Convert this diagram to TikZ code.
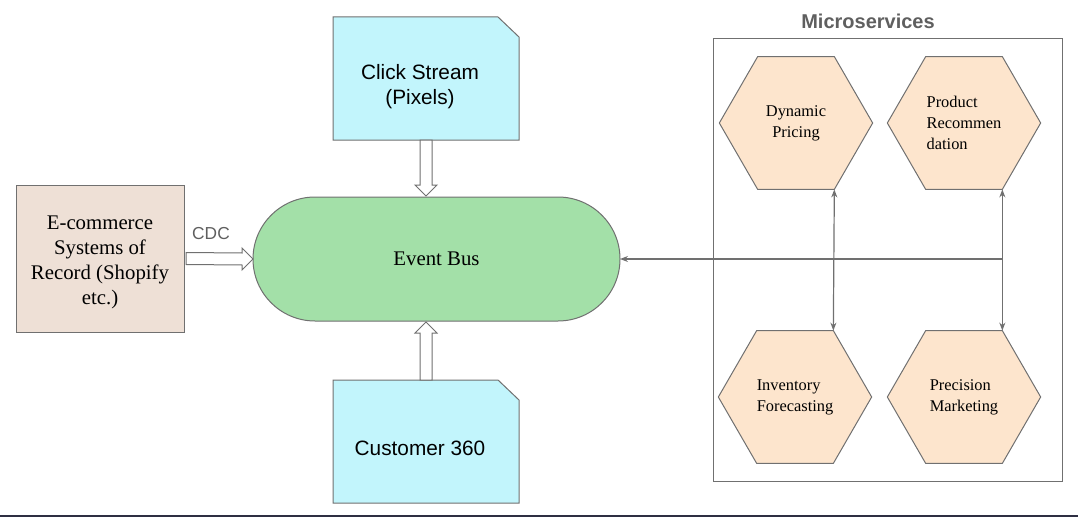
\documentclass[tikz,border=0pt]{standalone}
\usepackage{fontspec}
\setmainfont{Liberation Serif}
\setsansfont{Liberation Sans}
\usepackage{tikz}
\usetikzlibrary{calc, arrows.meta, shapes.geometric}

\definecolor{edge}{HTML}{707070}
\definecolor{ink}{HTML}{5F5F5F}
\definecolor{recfill}{HTML}{EEE0D6}
\definecolor{docfill}{HTML}{C2F5FC}
\definecolor{busfill}{HTML}{A3E0A8}
\definecolor{hexfill}{HTML}{FDE5CD}
\definecolor{rule}{HTML}{2E2F42}

\tikzset{
  box/.style={draw=edge, line width=0.75pt, outer sep=0pt, inner sep=0pt},
  recbox/.style={box, rectangle, fill=recfill, minimum width=126pt, minimum height=110.25pt},
  rectext/.style={align=center, font=\fontsize{15.6}{18.75}\selectfont},
  docbox/.style={rectangle, outer sep=0pt, inner sep=0pt, minimum width=139.5pt, minimum height=92.25pt},
  docshape/.style={draw=edge, fill=docfill, line width=0.75pt, line join=miter},
  doctext/.style={align=center, font=\sffamily\fontsize{15.6}{18.75}\selectfont},
  busbox/.style={box, rectangle, rounded corners=46.5pt, fill=busfill,
    minimum width=275.25pt, minimum height=93pt, font=\fontsize{15.6}{18.75}\selectfont},
  hexbox/.style={box, regular polygon, regular polygon sides=6, minimum size=115pt,
    fill=hexfill, font=\fontsize{12.3}{15.75}\selectfont},
  frame/.style={box, rectangle, minimum width=261.75pt, minimum height=331.5pt},
  hollow/.style={draw=edge, fill=white, line width=0.75pt, line join=miter},
  link/.style={draw=edge, line width=0.9pt},
  tag/.style={text=ink, font=\sffamily\fontsize{13}{15}\selectfont},
}

\begin{document}
\begin{tikzpicture}[x=0.75pt, y=-0.75pt, >={Stealth[length=6pt, width=4.5pt]}]
    \useasboundingbox (0, 0) rectangle (1078, 517);

    % sources and bus
    \node[recbox, label={[rectext, yshift=-3pt]center:E-commerce\\Systems of\\Record (Shopify\\etc.)}] (rec) at (100, 258.5) {};

    \node[docbox] (cs) at (426, 78.5) {};
    \draw[docshape] (cs.south west) -- (cs.north west) -- ($(cs.north east)+(-21, 0)$)
        -- ($(cs.north east)+(0, 20)$) -- (cs.south east) -- cycle;
    \node[doctext] (cslabel) at ($(cs)+(-6, 8)$) {Click Stream\\(Pixels)};

    \node[docbox] (cust) at (426, 441.5) {};
    \draw[docshape] (cust.south west) -- (cust.north west) -- ($(cust.north east)+(-21, 0)$)
        -- ($(cust.north east)+(0, 20)$) -- (cust.south east) -- cycle;
    \node[doctext] (custlabel) at ($(cust)+(-6, 7)$) {Customer 360};

    \node[busbox] (bus) at (436.5, 259) {Event Bus};
    \node[tag] (cdc) at (211, 234) {CDC};

    % hollow arrows into the bus
    \coordinate (topin) at (cs.south |- bus.north);
    \coordinate (botin) at (cust.north |- bus.south);
    \draw[hollow] ($(rec.east)+(2, -6)$) -- ($(bus.west)+(-11, -6)$) -- ($(bus.west)+(-11, -11)$)
        -- (bus.west) -- ($(bus.west)+(-11, 11)$) -- ($(bus.west)+(-11, 6)$) -- ($(rec.east)+(2, 6)$) -- cycle;
    \draw[hollow] ($(cs.south)+(-6, 0)$) -- ($(topin)+(-6, -12)$) -- ($(topin)+(-11, -12)$)
        -- ($(topin)+(0, -1)$) -- ($(topin)+(11, -12)$) -- ($(topin)+(6, -12)$) -- ($(cs.south)+(6, 0)$) -- cycle;
    \draw[hollow] ($(cust.north)+(-6, 0)$) -- ($(botin)+(-6, 12)$) -- ($(botin)+(-11, 12)$)
        -- ($(botin)+(0, 1)$) -- ($(botin)+(11, 12)$) -- ($(botin)+(6, 12)$) -- ($(cust.north)+(6, 0)$) -- cycle;

    % microservices
    \node[frame] (ms) at (887.5, 260) {};
    \node[text=ink, font=\sffamily\bfseries\fontsize{15}{18}\selectfont] (mstitle) at (868, 21) {Microservices};
    \node[hexbox, align=center] (dp) at (796, 123) {Dynamic\\Pricing};
    \node[hexbox, align=left] (pr) at (964, 123) {Product\\Recommen\\dation};
    \node[hexbox, align=left] (inv) at (795, 397) {Inventory\\Forecasting};
    \node[hexbox, align=left] (pm) at (964, 397) {Precision\\Marketing};

    \coordinate (join) at (pr.corner 5 |- bus.east);
    \draw[link, <->] (dp.corner 5) -- (inv.corner 1);
    \draw[link, <->] (pr.corner 5) -- (pm.corner 1);
    \draw[link, ->] (join) -- (bus.east);

    \draw[rule, line width=1.1pt] (0, 516) -- (1078, 516);
\end{tikzpicture}
\end{document}
